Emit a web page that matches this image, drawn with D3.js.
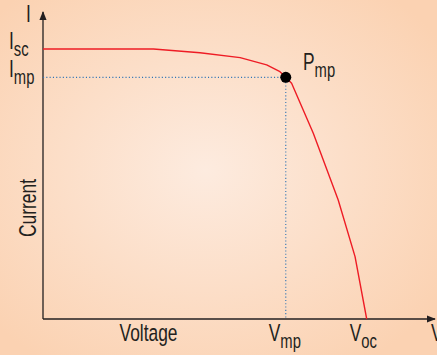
<!DOCTYPE html>
<html>
<head>
<meta charset="utf-8">
<script src="https://cdn.jsdelivr.net/npm/d3@7"></script>
<style>
  html, body { margin: 0; padding: 0; }
  body { width: 437px; height: 355px; overflow: hidden; }
  text { font-family: "Liberation Sans", Arial, sans-serif; fill: #231f20; }
</style>
</head>
<body>
<div id="chart"></div>
<script>
// Solar cell I-V curve (relative units: Voc = 1, Isc = 1)

const voltage = [0, 0.341, 0.485, 0.609, 0.691, 0.732, 0.750, 0.768, 0.835, 0.912, 0.964, 1.0];
const current = [1.0, 1.0, 0.986, 0.968, 0.941, 0.916, 0.895, 0.873, 0.688, 0.441, 0.231, 0];
const maxPower = {v: 0.750, i: 0.895};
const xTicks = [{v: 0.75, main: "V", sub: "mp"}, {v: 1.0, main: "V", sub: "oc"}];
const yTicks = [{i: 1.0, main: "I", sub: "sc"}, {i: 0.895, main: "I", sub: "mp"}];

const W = 437, H = 355;
const margin = {top: 12, right: 2, bottom: 36, left: 43};
const narrow = 0.74; // squeeze text to look like a condensed face

const svg = d3.select("#chart")
  .append("svg")
    .attr("width", W)
    .attr("height", H);

// peach background, lighter in the middle
const defs = svg.append("defs");
const grad = defs.append("radialGradient")
    .attr("id", "bg")
    .attr("cx", "47%").attr("cy", "48%").attr("r", "65%");
grad.append("stop").attr("offset", "0%").attr("stop-color", "#fdebdf");
grad.append("stop").attr("offset", "100%").attr("stop-color", "#fbd2b2");
svg.append("rect")
    .attr("width", W).attr("height", H)
    .attr("fill", "url(#bg)");

defs.append("marker")
    .attr("id", "arrow")
    .attr("viewBox", "0 0 10 10")
    .attr("refX", 9).attr("refY", 5)
    .attr("markerWidth", 9).attr("markerHeight", 9)
    .attr("markerUnits", "userSpaceOnUse")
    .attr("orient", "auto")
  .append("path")
    .attr("d", "M0,1 L10,5 L0,9 Z")
    .attr("fill", "#231f20");

const x = d3.scaleLinear()
  .domain([0, 1])
  .range([margin.left, 366.7]);

const y = d3.scaleLinear()
  .domain([0, 1])
  .range([H - margin.bottom, 49]);

const x0 = x(0), y0 = y(0);

// axes with arrows
svg.append("line")
    .attr("x1", x0).attr("y1", y0)
    .attr("x2", W - margin.right).attr("y2", y0)
    .attr("stroke", "#231f20").attr("stroke-width", 1.3)
    .attr("marker-end", "url(#arrow)");
svg.append("line")
    .attr("x1", x0).attr("y1", y0)
    .attr("x2", x0).attr("y2", margin.top)
    .attr("stroke", "#231f20").attr("stroke-width", 1.3)
    .attr("marker-end", "url(#arrow)");

// dotted guide lines to the max power point
svg.append("path")
    .attr("d", `M${x0},${y(maxPower.i)} H${x(maxPower.v)} V${y0}`)
    .attr("fill", "none")
    .attr("stroke", "#2f74b5")
    .attr("stroke-width", 1.1)
    .attr("stroke-dasharray", "1.1,2.2");

// the curve
const data = voltage.map((v, k) => ({v: v, i: current[k]}));
const line = d3.line()
  .x(d => x(d.v))
  .y(d => y(d.i));

svg.append("path")
    .datum(data)
    .attr("fill", "none")
    .attr("stroke", "#ee1c25")
    .attr("stroke-width", 1.4)
    .attr("stroke-linejoin", "round")
    .attr("d", line);

svg.append("circle")
    .attr("cx", x(maxPower.v))
    .attr("cy", y(maxPower.i))
    .attr("r", 5.5)
    .attr("fill", "#000");

// label helper: big letter + subscript, horizontally squeezed
function label(xx, yy, main, sub, anchor, rot) {
  const t = svg.append("text")
      .attr("transform", `translate(${xx},${yy})${rot ? " rotate(" + rot + ")" : ""} scale(${narrow},1)`)
      .attr("font-size", 23.5)
      .attr("text-anchor", anchor || "start");
  t.append("tspan").text(main);
  if (sub) {
    t.append("tspan")
      .attr("dy", 7)
      .attr("font-size", 20)
      .text(sub);
  }
  return t;
}

// x tick labels
xTicks.forEach(d => label(x(d.v) - 17, 341, d.main, d.sub));
// y tick labels
yTicks.forEach(d => label(9, y(d.i) - 0.5, d.main, d.sub));

// axis names
label(26, 22, "I");
label(431, 341, "V");
label(303, 70, "P", "mp");
label(148.5, 341, "Voltage", null, "middle");
label(36, 208, "Current", null, "middle", -90);
</script>
</body>
</html>
